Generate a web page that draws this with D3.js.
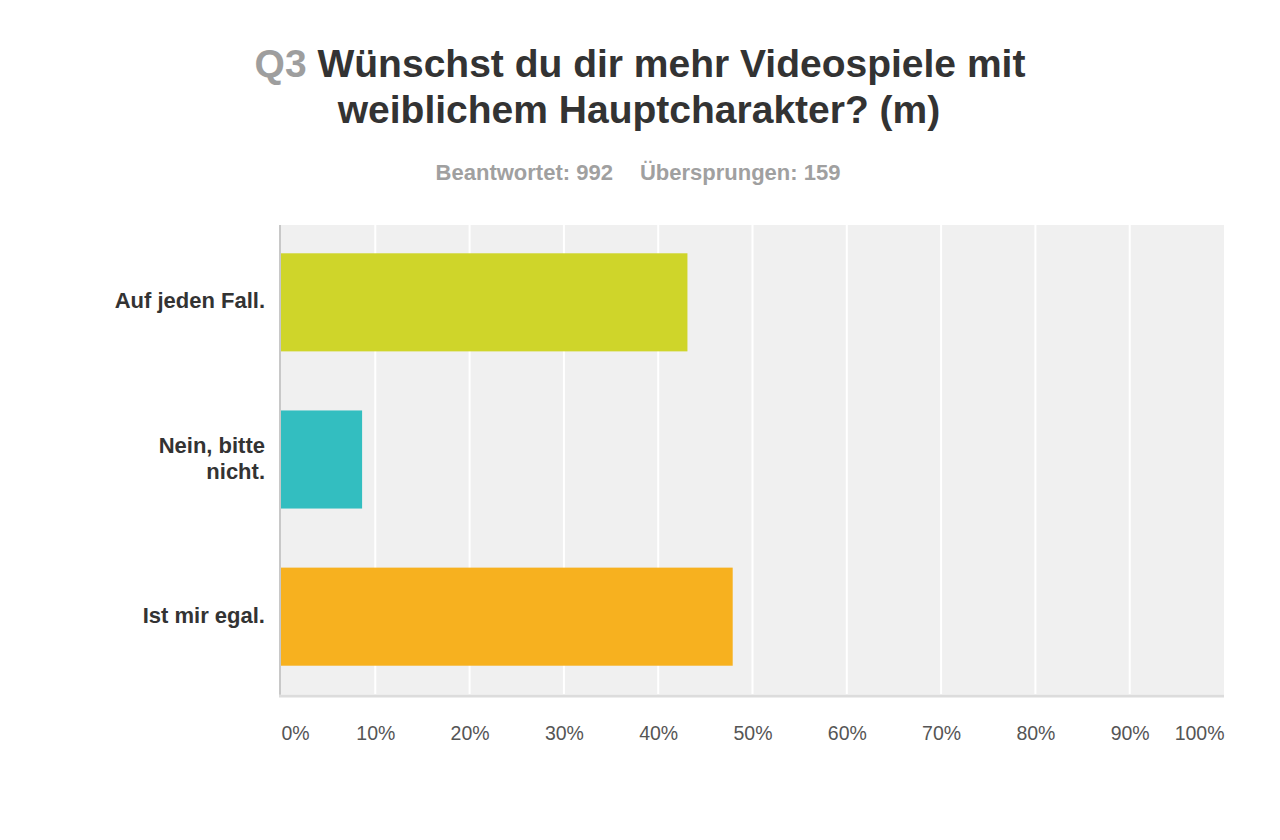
<!DOCTYPE html>
<html>
<head>
<meta charset="utf-8">
<script src="https://cdn.jsdelivr.net/npm/d3@7"></script>
<style>
  html, body { margin: 0; padding: 0; background: #ffffff; }
  svg { display: block; font-family: "Liberation Sans", Arial, Helvetica, sans-serif; }
</style>
</head>
<body>
<svg id="chart" width="1280" height="840"></svg>
<script>
// ---- data ----
const titlePrefix = "Q3";
const titleLines = ["Wünschst du dir mehr Videospiele mit", "weiblichem Hauptcharakter? (m)"];
const subtitleParts = ["Beantwortet: 992", "Übersprungen: 159"];
const categories = ["Auf jeden Fall.", "Nein, bitte nicht.", "Ist mir egal."];
const values = [43.1, 8.6, 47.9];
const colors = ["#cfd52a", "#33bec0", "#f7b11f"];
const tickValues = [0, 10, 20, 30, 40, 50, 60, 70, 80, 90, 100];

// ---- layout ----
const svg = d3.select("#chart");
const plot = { left: 281, right: 1224, top: 225, bottom: 694 };

const x = d3.scaleLinear().domain([0, 100]).range([plot.left, plot.right]);
const y = d3.scaleBand().domain(categories).range([plot.top, plot.bottom])
  .paddingInner(0.376).paddingOuter(0.18);

// title
const t1 = svg.append("text")
  .attr("x", 640).attr("y", 77)
  .attr("text-anchor", "middle")
  .attr("font-size", 39).attr("font-weight", "bold");
t1.append("tspan").attr("fill", "#9e9e9e").text(titlePrefix + " ");
t1.append("tspan").attr("fill", "#333333").text(titleLines[0]);
svg.append("text")
  .attr("x", 639).attr("y", 123)
  .attr("text-anchor", "middle")
  .attr("font-size", 39).attr("font-weight", "bold")
  .attr("fill", "#333333")
  .text(titleLines[1]);

// subtitle
const st = svg.append("text")
  .attr("x", 638).attr("y", 180)
  .attr("text-anchor", "middle")
  .attr("font-size", 22).attr("font-weight", "bold")
  .attr("fill", "#a0a0a0");
st.append("tspan").text(subtitleParts[0]);
st.append("tspan").attr("dx", 27).text(subtitleParts[1]);

// plot background
svg.append("rect")
  .attr("x", plot.left).attr("y", plot.top)
  .attr("width", plot.right - plot.left).attr("height", plot.bottom - plot.top)
  .attr("fill", "#f0f0f0");

// gridlines
svg.append("g")
  .selectAll("line")
  .data(tickValues.filter(d => d > 0 && d < 100))
  .join("line")
  .attr("x1", d => x(d)).attr("x2", d => x(d))
  .attr("y1", plot.top).attr("y2", plot.bottom)
  .attr("stroke", "#ffffff").attr("stroke-width", 2);

// bars
svg.append("g")
  .selectAll("rect")
  .data(categories)
  .join("rect")
  .attr("x", x(0))
  .attr("y", d => y(d))
  .attr("width", (d, i) => x(values[i]) - x(0))
  .attr("height", y.bandwidth())
  .attr("fill", (d, i) => colors[i]);

// left axis line
svg.append("line")
  .attr("x1", plot.left - 1).attr("x2", plot.left - 1)
  .attr("y1", plot.top).attr("y2", plot.bottom + 1)
  .attr("stroke", "#c8c8c8").attr("stroke-width", 2);

// bottom axis line
svg.append("line")
  .attr("x1", plot.left - 2).attr("x2", plot.right)
  .attr("y1", plot.bottom + 2).attr("y2", plot.bottom + 2)
  .attr("stroke", "#dcdcdc").attr("stroke-width", 3);

// x axis labels
const xAxis = d3.axisBottom(x).tickValues(tickValues).tickFormat(d => d + "%").tickSize(0).tickPadding(0);
const gx = svg.append("g").attr("transform", `translate(0, ${plot.bottom})`).call(xAxis);
gx.select(".domain").remove();
gx.selectAll(".tick text")
  .attr("font-size", 19.5)
  .attr("font-family", "\"Liberation Sans\", Arial, sans-serif")
  .attr("fill", "#555555")
  .attr("dy", null)
  .attr("y", 46)
  .attr("text-anchor", (d, i) => i === 0 ? "start" : (i === tickValues.length - 1 ? "end" : "middle"));

// category labels with wrapping
const measure = svg.append("text").attr("font-size", 22).attr("font-weight", "bold").attr("visibility", "hidden");
function wrap(str, maxW) {
  const words = str.split(" ");
  const lines = [];
  let cur = "";
  words.forEach(w => {
    const test = cur ? cur + " " + w : w;
    measure.text(test);
    if (measure.node().getComputedTextLength() > maxW && cur) {
      lines.push(cur);
      cur = w;
    } else {
      cur = test;
    }
  });
  if (cur) lines.push(cur);
  return lines;
}

const lineH = 26;
categories.forEach((c, i) => {
  const lines = wrap(c, 155);
  const cy = y(c) + y.bandwidth() / 2;
  const t = svg.append("text")
    .attr("text-anchor", "end")
    .attr("font-size", 22).attr("font-weight", "bold")
    .attr("fill", "#333333");
  lines.forEach((ln, j) => {
    t.append("tspan")
      .attr("x", 265)
      .attr("y", cy + 6 + (j - (lines.length - 1) / 2) * lineH)
      .text(ln);
  });
});
measure.remove();
</script>
</body>
</html>
